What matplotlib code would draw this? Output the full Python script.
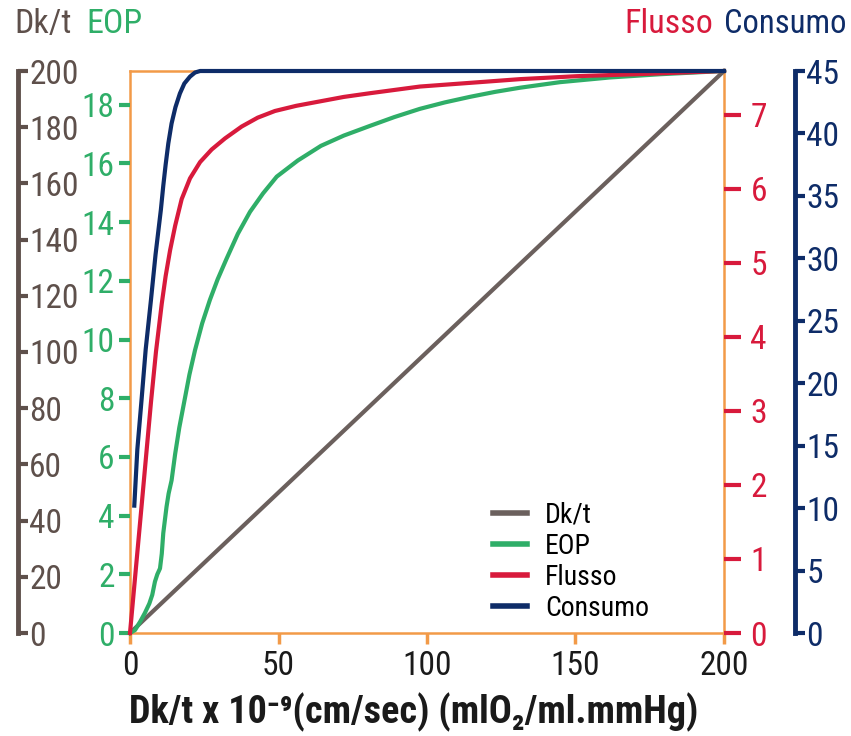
from matplotlib import pyplot as plt
from matplotlib.lines import Line2D

plt.rcParams['font.family'] = ['Roboto Condensed', 'Liberation Sans', 'DejaVu Sans']

# colours
C_DK = '#5e504b'
C_EOP = '#2fae68'
C_FL = '#d81a3c'
C_CO = '#0e2c68'
C_FRAME = '#f29a48'

# Dk/t (x axis), straight line
dk_x = [0, 200]
dk_y = [0, 200]

# EOP (%)
eop_x = [0, 1.7, 3.5, 5.0, 6.5, 7.5, 8.4, 9.2, 10.1, 10.7, 11.2, 12.3, 13.0, 14.0, 15.2,
         16.6, 18.3, 20.0, 21.9, 24.3, 26.9, 29.5, 32.5, 36.3, 40.4, 44.8, 49.4, 56.5,
         64.3, 72.0, 80.8, 89.0, 97.6, 106.0, 114.5, 123.0, 131.3, 144.8, 161.6, 178.5, 200]
eop_y = [0, 0.1, 0.4, 0.68, 1.0, 1.3, 1.75, 2.0, 2.2, 2.7, 3.4, 4.3, 4.75, 5.2, 6.1,
         7.0, 7.9, 8.8, 9.64, 10.55, 11.35, 12.05, 12.75, 13.6, 14.35, 14.98, 15.55, 16.1,
         16.6, 16.95, 17.28, 17.58, 17.86, 18.08, 18.27, 18.44, 18.58, 18.77, 18.93, 19.04, 19.15]

# Flusso
fl_x = [0, 2.0, 4.0, 5.6, 7.07, 8.75, 10.7, 12.0, 13.5, 15.2, 17.4, 20.2, 23.6, 27.5,
        32.0, 37.6, 43.0, 48.8, 56.0, 64.0, 72.0, 80.8, 97.6, 114.5, 131.3, 150.4, 172.8, 200]
fl_y = [0, 0.88, 1.76, 2.47, 3.12, 3.8, 4.45, 4.82, 5.17, 5.5, 5.86, 6.14, 6.36, 6.53,
        6.68, 6.84, 6.96, 7.05, 7.12, 7.18, 7.24, 7.29, 7.38, 7.43, 7.48, 7.52, 7.55, 7.59]

# Consumo
co_x = [1.45, 2.47, 3.9, 5.28, 7.07, 8.6, 10.4, 11.2, 12.0, 12.9, 14.0, 15.3, 16.8,
        18.3, 20.2, 21.9, 23.6, 200]
co_y = [10.2, 14.7, 18.7, 22.7, 26.7, 30.3, 33.9, 35.8, 37.5, 39.2, 40.8, 42.1, 43.2,
        44.0, 44.55, 44.88, 45, 45]

x_ticks = [0, 50, 100, 150, 200]
dk_ticks = list(range(0, 201, 20))
eop_ticks = list(range(0, 19, 2))
fl_ticks = list(range(0, 8))
co_ticks = list(range(0, 46, 5))

TICK_FS = 24
TITLE_FS = 24.5

fig = plt.figure(figsize=(8.51, 7.36), dpi=100)
ax = fig.add_axes([130 / 851, 103 / 736, 594 / 851, 562 / 736])
ax.set_xlim(0, 200)
ax.set_ylim(0, 200)
for s in ax.spines.values():
    s.set_color(C_FRAME)
    s.set_linewidth(1.8)
ax.set_xticks(x_ticks)
ax.tick_params(axis='x', colors=C_FRAME, labelcolor='#1a1a1a', length=8, width=2.5,
               labelsize=TICK_FS, pad=4)
ax.set_yticks([])

# Dk/t axis on the far left (labels to the right of its spine)
ax_dk = ax.twinx()
ax_dk.set_ylim(0, 200)
for k, s in ax_dk.spines.items():
    s.set_visible(k == 'right')
ax_dk.spines['right'].set_position(('axes', -0.1886))
ax_dk.spines['right'].set_color(C_DK)
ax_dk.spines['right'].set_linewidth(3.5)
ax_dk.set_yticks(dk_ticks)
ax_dk.tick_params(axis='y', colors=C_DK, length=7, width=3, labelsize=TICK_FS, pad=1)
ax_dk.plot(dk_x, dk_y, color='#6b605d', lw=3, clip_on=False, label='Dk/t')

# EOP axis: ticks on the left of the frame
ax_eop = ax.twinx()
ax_eop.set_ylim(0, 19.15)
for s in ax_eop.spines.values():
    s.set_visible(False)
ax_eop.yaxis.tick_left()
ax_eop.set_yticks(eop_ticks)
ax_eop.tick_params(axis='y', colors=C_EOP, length=8, width=3, labelsize=TICK_FS, pad=3)
ax_eop.plot(eop_x, eop_y, color=C_EOP, lw=3, clip_on=False, label='EOP')

# Flusso axis: ticks on the right of the frame
ax_fl = ax.twinx()
ax_fl.set_ylim(0, 7.59)
for s in ax_fl.spines.values():
    s.set_visible(False)
ax_fl.set_yticks(fl_ticks)
ax_fl.tick_params(axis='y', colors=C_FL, length=12, width=3, labelsize=TICK_FS, pad=7)
ax_fl.plot(fl_x, fl_y, color=C_FL, lw=3, clip_on=False, label='Flusso')

# Consumo axis on the far right
ax_co = ax.twinx()
ax_co.set_ylim(0, 45)
for k, s in ax_co.spines.items():
    s.set_visible(k == 'right')
ax_co.spines['right'].set_position(('axes', 1.1195))
ax_co.spines['right'].set_color(C_CO)
ax_co.spines['right'].set_linewidth(3.5)
ax_co.set_yticks(co_ticks)
ax_co.tick_params(axis='y', colors=C_CO, length=7, width=3, labelsize=TICK_FS, pad=1)
ax_co.plot(co_x, co_y, color=C_CO, lw=3, clip_on=False, label='Consumo')

handles = [Line2D([], [], color='#6b605d', lw=4), Line2D([], [], color=C_EOP, lw=4),
           Line2D([], [], color=C_FL, lw=4), Line2D([], [], color=C_CO, lw=4)]
ax_co.legend(handles, ['Dk/t', 'EOP', 'Flusso', 'Consumo'], loc='upper left',
             bbox_to_anchor=((493 - 130) / 594, (633 - 502) / 562), frameon=False,
             fontsize=20, handlelength=1.22, handletextpad=0.65, labelspacing=0.14,
             borderpad=0, borderaxespad=0)

# axis titles at the top
fig.text(14 / 851, 1 - 24 / 736, 'Dk/t', color=C_DK, fontsize=TITLE_FS, va='center')
fig.text(86 / 851, 1 - 24 / 736, 'EOP', color=C_EOP, fontsize=TITLE_FS, va='center')
fig.text(713 / 851, 1 - 24 / 736, 'Flusso', color=C_FL, fontsize=TITLE_FS, va='center', ha='right')
fig.text(847 / 851, 1 - 24 / 736, 'Consumo', color=C_CO, fontsize=23.5, va='center', ha='right')

fig.text(414 / 851, 1 - 712 / 736, 'Dk/t x 10⁻⁹(cm/sec) (mlO₂/ml.mmHg)', color='#1a1a1a',
         fontsize=27.5, fontweight='bold', ha='center', va='center')

fig.savefig('out.png', dpi=100)
